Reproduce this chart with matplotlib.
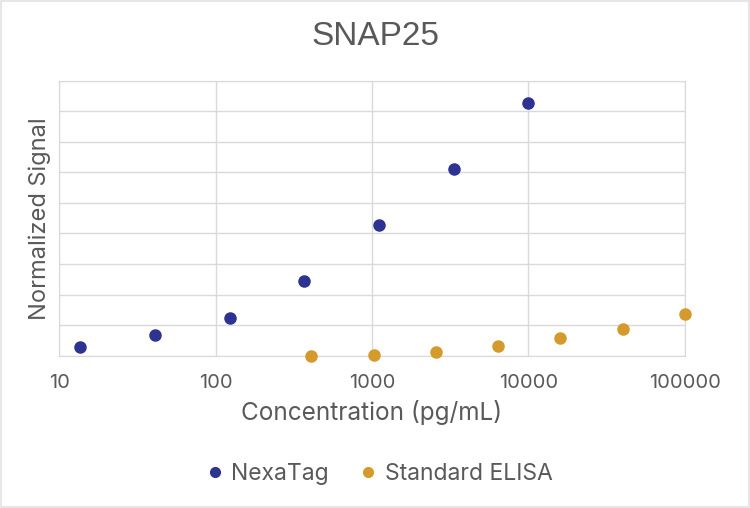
import numpy as np
import matplotlib.pyplot as plt
from matplotlib.lines import Line2D

# concentrations (pg/mL) and normalized signal
nexa_conc = [13.7, 41.2, 123, 370, 1111, 3333, 10000]
nexa_signal = [0.28, 0.68, 1.22, 2.43, 4.27, 6.11, 8.27]

elisa_conc = [410, 1024, 2560, 6400, 16000, 40000, 100000]
elisa_signal = [0.0, 0.03, 0.11, 0.33, 0.58, 0.86, 1.35]

series_names = ['NexaTag', 'Standard ELISA']
colors = ['#2c3391', '#d49a2b']
x_ticks = [10, 100, 1000, 10000, 100000]
x_tick_labels = ['10', '100', '1000', '10000', '100000']

text_color = '#595959'
grid_color = '#d9d9d9'
label_font = ['Inter', 'DejaVu Sans']

fig = plt.figure(figsize=(7.5, 5.08), dpi=100)
ax = fig.add_axes([0.0787, 0.2998, 0.8346, 0.5413])

ax.plot(nexa_conc, nexa_signal, 'o', color=colors[0], ms=8, mec=colors[0], clip_on=False, zorder=3)
ax.plot(elisa_conc, elisa_signal, 'o', color=colors[1], ms=8, mec=colors[1], clip_on=False, zorder=3)

ax.set_xscale('log')
ax.set_xlim(10, 100000)
ax.set_ylim(0, 9)
ax.set_xticks(x_ticks)
ax.set_xticklabels(x_tick_labels)
ax.xaxis.set_minor_locator(plt.NullLocator())
ax.set_yticks(np.arange(0, 10, 1))
ax.set_yticklabels([])
ax.tick_params(axis='both', length=0)
ax.tick_params(axis='x', pad=13, labelsize=14.5, labelcolor=text_color)
for lab in ax.get_xticklabels():
    lab.set_family(label_font)

ax.grid(True, color=grid_color, lw=1)
ax.set_axisbelow(True)
for side in ['left', 'right', 'top', 'bottom']:
    ax.spines[side].set_color(grid_color)

ax.set_xlabel('Concentration (pg/mL)', fontsize=17.5, color=text_color,
              family=label_font, labelpad=6)
ax.set_ylabel('Normalized Signal', fontsize=17, color=text_color,
              family=label_font, labelpad=2)

fig.suptitle('SNAP25', y=0.958, fontsize=24, color=text_color,
             family=['Liberation Sans', 'DejaVu Sans'])

handles = [Line2D([], [], ls='', marker='o', ms=7, color=c) for c in colors]
fig.legend(handles, series_names, loc='center', bbox_to_anchor=(0.506, 0.066),
           ncol=2, frameon=False, handlelength=0.7, handletextpad=0.35,
           columnspacing=1.4, prop={'family': label_font, 'size': 16.5},
           labelcolor=text_color)

# light border around the whole picture
fig.patches.append(plt.Rectangle((0.001, 0.002), 0.998, 0.996, transform=fig.transFigure,
                                 fill=False, ec='#e6e6e6', lw=1.5))

fig.savefig('out.png', dpi=100)
